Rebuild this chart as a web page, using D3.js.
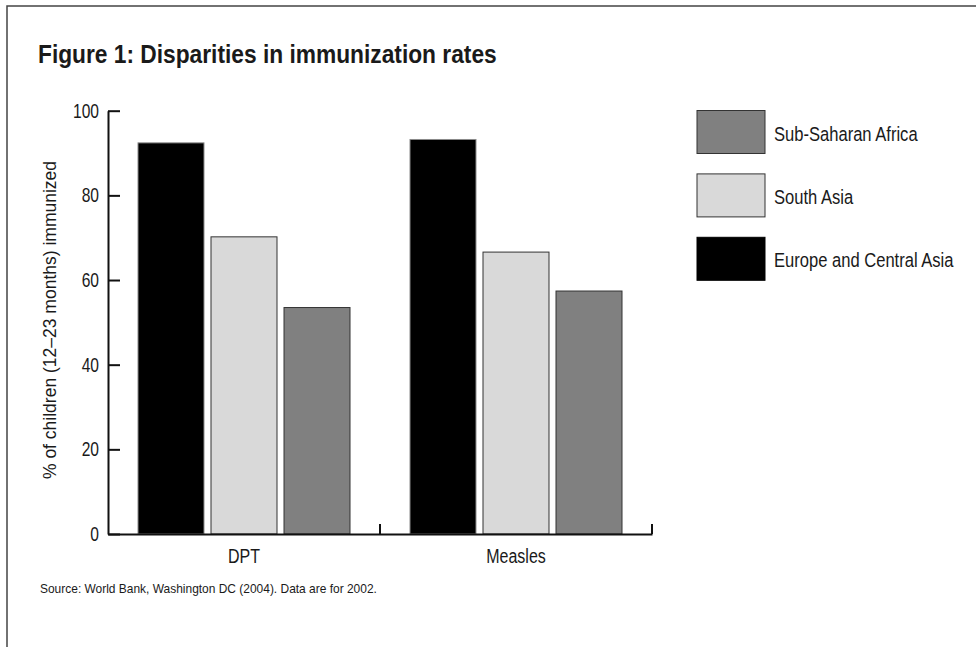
<!DOCTYPE html>
<html>
<head>
<meta charset="utf-8">
<script src="https://cdn.jsdelivr.net/npm/d3@7"></script>
<style>
  body { margin: 0; background: #fff; }
  text { font-family: "Liberation Sans", Arial, sans-serif; fill: #1a1a1a; }
</style>
</head>
<body>
<svg id="chart" width="976" height="647"></svg>
<script>
// data
const vaccines = ["DPT", "Measles"];
const regions = ["Europe and Central Asia", "South Asia", "Sub-Saharan Africa"];
const legendOrder = ["Sub-Saharan Africa", "South Asia", "Europe and Central Asia"];
const dptRates = [92.4, 70.2, 53.5];
const measlesRates = [93.2, 66.6, 57.4];
const yTicks = [0, 20, 40, 60, 80, 100];

const fills = { "Europe and Central Asia": "#000", "South Asia": "#d9d9d9", "Sub-Saharan Africa": "#808080" };
const strokes = { "Europe and Central Asia": "#8a8a8a", "South Asia": "#333", "Sub-Saharan Africa": "#333" };

// build rows: one per vaccine
const rates = { "DPT": dptRates, "Measles": measlesRates };
const rows = [];
vaccines.forEach(v => regions.forEach((r, i) => rows.push({ vaccine: v, region: r, value: rates[v][i] })));

// no condensed font installed: squeeze text horizontally
function squeeze(sel, k) {
    sel.each(function () {
        const t = d3.select(this);
        const tx = +t.attr("x") || 0, ty = +t.attr("y") || 0;
        t.attr("x", 0).attr("y", 0).attr("transform", `translate(${tx},${ty}) scale(${k},1)`);
    });
}

const svg = d3.select("#chart");
svg.append("rect").attr("width", 976).attr("height", 647).attr("fill", "#fff");

// partial frame (top + left)
svg.append("path")
    .attr("d", "M7,647V6H976")
    .attr("fill", "none")
    .attr("stroke", "#444")
    .attr("stroke-width", 1.5);

svg.append("text")
    .attr("x", 38).attr("y", 63)
    .style("font-size", "25px").style("font-weight", "bold")
    .text("Figure 1: Disparities in immunization rates")
    .call(squeeze, 0.91);

const plotLeft = 108, plotRight = 652, plotBottom = 534, plotTop = 110.7;

const y = d3.scaleLinear().domain([0, 100]).range([plotBottom, plotTop]);
const x = d3.scaleBand().domain(vaccines).range([plotLeft, plotRight]).padding(0);
const xs = d3.scaleBand().domain(regions).range([30, 242]).paddingInner(0.096);

// bars
svg.append("g").selectAll("rect")
    .data(rows).enter().append("rect")
    .attr("x", d => x(d.vaccine) + xs(d.region))
    .attr("width", xs.bandwidth())
    .attr("y", d => y(d.value))
    .attr("height", d => plotBottom - y(d.value))
    .attr("fill", d => fills[d.region])
    .attr("stroke", d => strokes[d.region])
    .attr("stroke-width", 1);

// y axis, ticks pointing inward
const yAxis = svg.append("g")
    .attr("transform", `translate(${plotLeft},0)`)
    .call(d3.axisLeft(y).tickValues(yTicks).tickSize(-12).tickSizeOuter(0).tickPadding(9));
yAxis.select(".domain").attr("stroke", "#111").attr("stroke-width", 2);
yAxis.selectAll(".tick line").attr("stroke", "#111").attr("stroke-width", 2);
yAxis.selectAll(".tick text")
    .style("font-size", "20px").attr("fill", "#1a1a1a").attr("font-family", null)
    .call(squeeze, 0.78);

// x axis: labels at band centres, ticks at band edges
const xAxis = svg.append("g")
    .attr("transform", `translate(0,${plotBottom})`)
    .call(d3.axisBottom(x).tickSize(0).tickPadding(9));
xAxis.select(".domain").attr("stroke", "#111").attr("stroke-width", 2);
xAxis.selectAll(".tick text")
    .style("font-size", "20px").attr("fill", "#1a1a1a").attr("font-family", null)
    .attr("dy", "1em")
    .call(squeeze, 0.8);
xAxis.selectAll(".edge")
    .data(vaccines).enter().append("line")
    .attr("x1", d => x(d) + x.bandwidth()).attr("x2", d => x(d) + x.bandwidth())
    .attr("y1", 0).attr("y2", -10)
    .attr("stroke", "#111").attr("stroke-width", 2);

// y axis title
svg.append("text")
    .attr("transform", "translate(56,320) rotate(-90)")
    .attr("text-anchor", "middle")
    .style("font-size", "17.5px")
    .attr("fill", "#333")
    .text("% of children (12\u201323 months) immunized");

// legend
const lg = svg.append("g").attr("transform", "translate(697,110.5)");
const li = lg.selectAll("g").data(legendOrder).enter().append("g")
    .attr("transform", (d, i) => `translate(0,${i * 63.4})`);
li.append("rect")
    .attr("width", 68).attr("height", 43)
    .attr("fill", d => fills[d])
    .attr("stroke", d => d === "Europe and Central Asia" ? "#000" : "#333")
    .attr("stroke-width", 1);
li.append("text")
    .attr("x", 77).attr("y", 30)
    .style("font-size", "19.5px")
    .text(d => d)
    .call(squeeze, 0.85);

// source note
svg.append("text")
    .attr("x", 40).attr("y", 593)
    .style("font-size", "13px")
    .text("Source: World Bank, Washington DC (2004). Data are for 2002.")
    .call(squeeze, 0.92);
</script>
</body>
</html>
